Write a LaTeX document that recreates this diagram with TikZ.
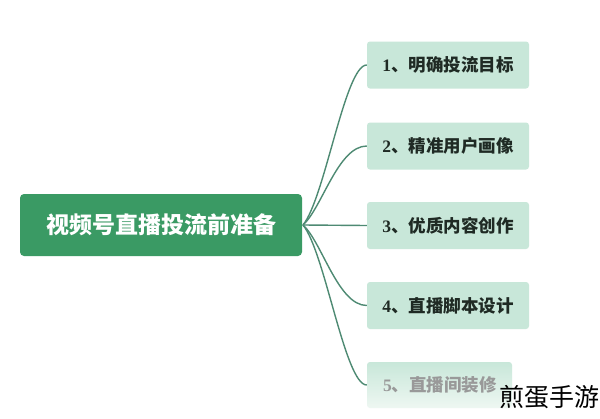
\documentclass[tikz,border=0pt]{standalone}
\usepackage{fontspec}
\newfontfamily\cjk{Noto Sans CJK SC}
\newfontfamily\serifnum{Liberation Serif}
\definecolor{maingreen}{HTML}{3A9A64}
\definecolor{mint}{HTML}{C8E7D9}
\definecolor{mintlight}{HTML}{EEF7F2}
\definecolor{conncol}{HTML}{4E8A73}
\definecolor{darktext}{HTML}{1F2A24}
\begin{document}
\begin{tikzpicture}[x=1pt,y=-1pt,
  mainbox/.style={rectangle,rounded corners=4pt,fill=maingreen,text=white,
    minimum width=282pt,minimum height=62pt,inner sep=0pt,
    font=\cjk\bfseries\fontsize{23}{23}\selectfont},
  childbox/.style={rectangle,rounded corners=3pt,fill=mint,text=darktext,
    minimum width=162pt,minimum height=47pt,inner sep=0pt,
    font=\cjk\bfseries\fontsize{17.5}{17.5}\selectfont},
  conn/.style={draw=conncol,line width=1.4pt}]
\useasboundingbox[fill=white] (0,0) rectangle (600,418);
\node[mainbox] (main) at (161,225) {视频号直播投流前准备};
\node[childbox] (b1) at (448,65) {{\serifnum\bfseries 1}、明确投流目标};
\node[childbox] (b2) at (448,146) {{\serifnum\bfseries 2}、精准用户画像};
\node[childbox] (b3) at (448,225.5) {{\serifnum\bfseries 3}、优质内容创作};
\node[childbox] (b4) at (448,305.5) {{\serifnum\bfseries 4}、直播脚本设计};
\node[rectangle,rounded corners=3pt,top color=mint,bottom color=mintlight,
  minimum width=145pt,minimum height=46pt,inner sep=0pt] (b5) at (439.5,385) {};
\node[anchor=west,inner sep=0pt,text=black!40,
  font=\cjk\bfseries\fontsize{17.5}{17.5}\selectfont] (t5) at (383,385)
  {{\serifnum\bfseries 5}、直播间装修};
\coordinate (hub) at (303,225);
\draw[conn] (hub) .. controls (325,198) and (345,65) .. (b1.west);
\draw[conn] (hub) .. controls (322,208) and (338,146) .. (b2.west);
\draw[conn] (hub) -- (b3.west);
\draw[conn] (hub) .. controls (322,242) and (338,305.5) .. (b4.west);
\draw[conn] (hub) .. controls (325,252) and (345,385) .. (b5.west);
\node[inner sep=0pt,text=black,font=\cjk\fontsize{25}{25}\selectfont] (wm) at (549,397) {煎蛋手游};
\end{tikzpicture}
\end{document}
